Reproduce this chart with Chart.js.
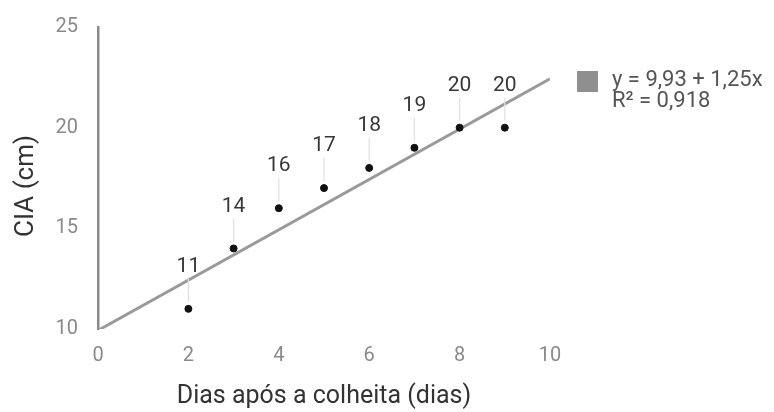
<!DOCTYPE html>
<html>
<head>
<meta charset="utf-8">
<script src="https://cdn.jsdelivr.net/npm/chart.js@4/dist/chart.umd.min.js"></script>
<style>
  html, body { margin: 0; padding: 0; background: #fff; }
  #wrap { width: 774px; height: 412px; }
</style>
</head>
<body>
<div id="wrap"><canvas id="c" width="774" height="412"></canvas></div>
<script>
// Days after harvest and measured CIA (cm)
const days = [2, 3, 4, 5, 6, 7, 8, 9];
const cia = [11, 14, 16, 17, 18, 19, 20, 20];

// Linear fit y = a + b·x and its R²
const fitIntercept = 9.93;
const fitSlope = 1.25;
const fitR2 = 0.918;
const fitRange = [0, 10];

const xTicks = [0, 2, 4, 6, 8, 10];
const yTicks = [10, 15, 20, 25];

const xTitle = 'Dias após a colheita (dias)';
const yTitle = 'CIA (cm)';

const fmt = v => v.toLocaleString('pt-BR', { minimumFractionDigits: 2, maximumFractionDigits: 3 });
const fitLabel = [
  'y = ' + fmt(fitIntercept) + ' + ' + fmt(fitSlope) + 'x',
  'R² = ' + fitR2.toLocaleString('pt-BR', { minimumFractionDigits: 3 })
];

const FONT = 'Roboto, "Noto Sans", sans-serif';

// Value labels above each point with a thin leader line
const valueLabels = {
  id: 'valueLabels',
  afterDatasetsDraw(chart) {
    const { ctx, scales } = chart;
    ctx.save();
    ctx.font = '21px ' + FONT;
    ctx.textAlign = 'center';
    ctx.textBaseline = 'middle';
    days.forEach((d, i) => {
      const px = scales.x.getPixelForValue(d);
      const py = scales.y.getPixelForValue(cia[i]);
      const ly = py - 43;
      ctx.strokeStyle = '#e0e0e0';
      ctx.lineWidth = 1.2;
      ctx.beginPath();
      ctx.moveTo(px, ly + 13);
      ctx.lineTo(px, py - 7);
      ctx.stroke();
      ctx.fillStyle = '#383838';
      ctx.fillText(String(Math.round(cia[i])), px, ly + 1);
    });
    ctx.restore();
  }
};

// Fit legend on the right and rotated y-axis title
const decorations = {
  id: 'decorations',
  afterDraw(chart) {
    const { ctx, chartArea } = chart;
    ctx.save();
    ctx.fillStyle = '#8f8f8f';
    ctx.fillRect(577, 71, 21, 21);
    ctx.fillStyle = '#555';
    ctx.font = '22px ' + FONT;
    ctx.textAlign = 'left';
    ctx.textBaseline = 'middle';
    ctx.fillText(fitLabel[0], 612, 80);
    ctx.fillText(fitLabel[1], 612, 101);

    ctx.translate(26, (chartArea.top + chartArea.bottom) / 2 + 8);
    ctx.rotate(-Math.PI / 2);
    ctx.textAlign = 'center';
    ctx.fillStyle = '#333';
    ctx.font = '26px ' + FONT;
    ctx.fillText(yTitle, 0, 0);
    ctx.restore();
  }
};

new Chart(document.getElementById('c'), {
  type: 'scatter',
  data: {
    datasets: [
      {
        label: 'Ajuste',
        type: 'line',
        data: fitRange.map(x => ({ x, y: fitIntercept + fitSlope * x })),
        borderColor: '#9a9a9a',
        borderWidth: 3,
        pointRadius: 0,
        fill: false,
        order: 2
      },
      {
        label: 'CIA',
        data: days.map((d, i) => ({ x: d, y: cia[i] })),
        backgroundColor: '#111',
        borderColor: '#111',
        pointRadius: 3.5,
        order: 1
      }
    ]
  },
  options: {
    responsive: false,
    animation: false,
    layout: { padding: { top: 27, right: 224, left: 0, bottom: 0 } },
    plugins: { legend: { display: false }, tooltip: { enabled: false } },
    scales: {
      x: {
        type: 'linear',
        min: 0, max: 10,
        afterBuildTicks: s => { s.ticks = xTicks.map(v => ({ value: v })); },
        afterFit: s => { s.height = 83; },
        grid: { display: false },
        border: { display: false },
        ticks: { color: '#8a8a8a', font: { family: FONT, size: 20 }, padding: 7 },
        title: { display: true, text: xTitle, color: '#333', font: { family: FONT, size: 25 }, padding: { top: 4, bottom: 0 } }
      },
      y: {
        type: 'linear',
        min: 10, max: 25,
        afterBuildTicks: s => { s.ticks = yTicks.map(v => ({ value: v })); },
        afterFit: s => { s.width = 98; },
        grid: { display: false },
        border: { display: true, color: '#8a8a8a', width: 2.5 },
        ticks: { color: '#8a8a8a', font: { family: FONT, size: 20 }, padding: 12 },
        title: { display: false }
      }
    }
  },
  plugins: [valueLabels, decorations]
});
</script>
</body>
</html>
